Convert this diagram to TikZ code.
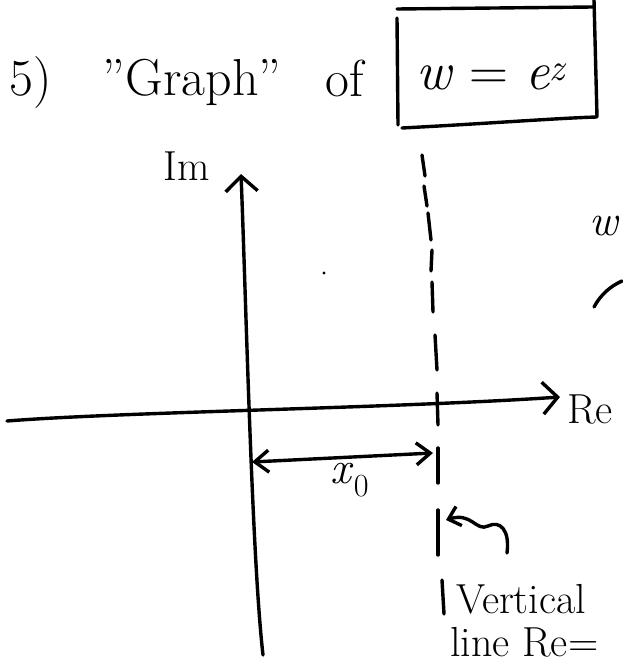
\documentclass[tikz,border=0pt]{standalone}
\usetikzlibrary{arrows.meta}
\begin{document}
\begin{tikzpicture}[x=1pt,y=-1pt,
  ink/.style={line width=3.4pt, line cap=round, line join=round},
  bigarrow/.style={ink, -{Straight Barb[length=15pt,width=32pt]}},
  dimarrow/.style={ink, {Straight Barb[length=14pt,width=22pt]}-{Straight Barb[length=14pt,width=22pt]}},
  smallarrow/.style={ink, -{Straight Barb[length=11pt,width=20pt]}},
  title/.style={inner sep=0pt, font=\fontsize{52}{56}\selectfont},
  eqfont/.style={inner sep=0pt, font=\fontsize{54}{58}\selectfont},
  label/.style={inner sep=0pt, font=\fontsize{42}{46}\selectfont},
  note/.style={inner sep=0pt, font=\fontsize{42}{46}\selectfont},
]
\useasboundingbox (0,0) rectangle (622,666);
\fill[white] (0,0) rectangle (622,666);

% title
\node[title, anchor=base east] (five) at (52,96) {5)};
\node[title, anchor=base] (graph) at (192,96) {"Graph"};
\node[title, anchor=base] (of) at (345,97) {of};
\node[eqfont, anchor=base] (eq) at (492,90) {\textit{w} = \textit{e}\textsuperscript{\textit{z}}};
\coordinate (b1) at (397,18);
\coordinate (b2) at (398,125);
\coordinate (b3) at (402,128);
\coordinate (b4) at (597,117);
\coordinate (b5) at (594,0);
\coordinate (b6) at (397,9);
\coordinate (b7) at (593,7);
\draw[ink] (b1) -- (b2);
\draw[ink] (b3) .. controls (480,124) and (560,118) .. (b4) -- (b5);
\draw[ink] (b6) -- (b7);

% axes
\coordinate (xl) at (7,421);
\coordinate (xr) at (560,397);
\draw[bigarrow] (xl) .. controls (120,412) and (400,408) .. (xr);
\coordinate (yb) at (263,655);
\coordinate (yt) at (241,174);
\draw[bigarrow] (yb) .. controls (252,560) and (246,300) .. (yt);
\node[label, anchor=base east] (im) at (210,180) {Im};
\node[label, anchor=base west] (re) at (567,423) {Re};

% dashed vertical line
\foreach \a/\b/\c/\d in {422/155/425/176, 424/186/427/206, 428/213/431/240,
  432/250/431/271, 432/282/433/312, 435/335/437/370, 437/393/438/425,
  438/448/438/483, 438/510/438/555, 442/580/444/614}
  \draw[ink] (\a,\b) -- (\c,\d);

% stray dot
\fill (324,273) circle (1.6pt);

% x0 dimension
\coordinate (d1) at (252,462);
\coordinate (d2) at (433,453);
\draw[dimarrow] (d1) -- (d2);
\node[eqfont, anchor=center, font=\fontsize{46}{50}\selectfont] (x0) at (350,480) {\textit{x}\textsubscript{0}};

% pointer to the line
\coordinate (p0) at (507,553);
\coordinate (p1) at (446,520);
\draw[smallarrow] (p0) .. controls (510,530) and (500,520) .. (488,526)
  .. controls (476,532) and (472,512) .. (p1);
\node[note, anchor=base west] (vert) at (456,613) {Vertical};
\node[note, anchor=base west] (line) at (450,656) {line Re=};

% right side
\node[eqfont, anchor=center, font=\fontsize{44}{48}\selectfont] (w) at (605,226) {\textit{w}};
\coordinate (c0) at (594,307);
\coordinate (c1) at (622,281);
\draw[ink] (c0) .. controls (601,294) and (611,286) .. (c1);
\end{tikzpicture}
\end{document}
